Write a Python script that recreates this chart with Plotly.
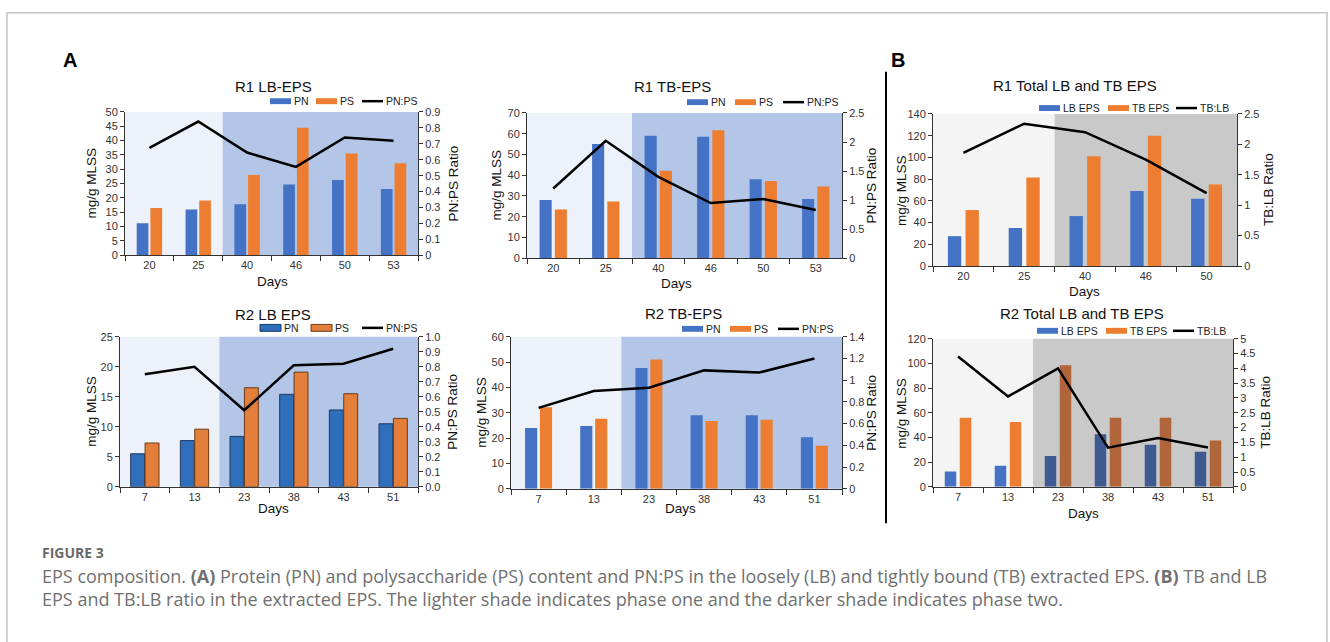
import plotly.graph_objects as go

W, H = 1330, 642

# ---------------- data ----------------
r1_days = ["20", "25", "40", "46", "50", "53"]
r1_lb_pn = [11.2, 16.0, 17.8, 24.7, 26.3, 23.1]
r1_lb_ps = [16.5, 19.1, 28.0, 44.5, 35.5, 32.1]
r1_lb_ratio = [0.675, 0.84, 0.645, 0.555, 0.74, 0.72]

r1_tb_pn = [28.0, 55.0, 59.0, 58.5, 38.0, 28.5]
r1_tb_ps = [23.5, 27.3, 42.2, 61.7, 37.2, 34.5]
r1_tb_ratio = [1.2, 2.02, 1.4, 0.95, 1.02, 0.83]

r1_tot_days = ["20", "25", "40", "46", "50"]
r1_tot_lb = [27.5, 35.0, 46.0, 69.0, 62.0]
r1_tot_tb = [51.5, 81.5, 101.0, 120.0, 75.0]
r1_tot_ratio = [1.86, 2.34, 2.2, 1.75, 1.2]

r2_days = ["7", "13", "23", "38", "43", "51"]
r2_lb_pn = [5.5, 7.7, 8.4, 15.4, 12.8, 10.5]
r2_lb_ps = [7.3, 9.6, 16.5, 19.1, 15.5, 11.4]
r2_lb_ratio = [0.75, 0.80, 0.51, 0.81, 0.82, 0.92]

r2_tb_pn = [24.0, 24.8, 47.7, 29.0, 29.0, 20.3]
r2_tb_ps = [32.2, 27.6, 51.0, 26.7, 27.2, 17.0]
r2_tb_ratio = [0.745, 0.90, 0.93, 1.09, 1.07, 1.2]

r2_tot_lb = [12.5, 17.0, 25.0, 42.5, 34.0, 28.5]
r2_tot_tb = [56.0, 52.5, 98.5, 56.0, 56.0, 37.5]
r2_tot_ratio = [4.4, 3.05, 4.0, 1.32, 1.65, 1.33]

# ---------------- helpers ----------------
def X(px):
    return px / W

def Y(py):
    return 1 - py / H

def ax_id(letter, k):
    return letter if k == 1 else f"{letter}{k}"

FONT = "Arial, Liberation Sans, sans-serif"
BLUE, ORANGE = "#4472C4", "#ED7D31"
SH_B_L, SH_B_D = "#EDF1F9", "#B4C6E7"
SH_G_L, SH_G_D = "#F4F4F4", "#C9C9C9"
TICK = 11
AXT = 13.5

panels = [
    dict(title="R1 LB-EPS", cats=r1_days, a=r1_lb_pn, b=r1_lb_ps, r=r1_lb_ratio,
         box=(125, 418, 108, 254), yl=(50, 5), yr=(0.9, 0.1), rfmt=None,
         bw=0.24, gap=0.04, shade=(SH_B_L, SH_B_D), names=("PN", "PS", "PN:PS"),
         ytitle="PN:PS Ratio", tpos=(273, 82), lx=(270, 316, 362), ly=97,
         lt=(92, 454), days=(272, 281), ca=BLUE, cb=ORANGE, outline=False),
    dict(title="R1 TB-EPS", cats=r1_days, a=r1_tb_pn, b=r1_tb_ps, r=r1_tb_ratio,
         box=(527, 842, 109, 257), yl=(70, 10), yr=(2.5, 0.5), rfmt=None,
         bw=0.23, gap=0.06, shade=(SH_B_L, SH_B_D), names=("PN", "PS", "PN:PS"),
         ytitle="PN:PS Ratio", tpos=(673, 82), lx=(687, 735, 783), ly=98,
         lt=(497, 872), days=(676, 283), ca=BLUE, cb=ORANGE, outline=False),
    dict(title="R1 Total LB and TB EPS", cats=r1_tot_days, a=r1_tot_lb, b=r1_tot_tb, r=r1_tot_ratio,
         box=(933, 1237, 110, 265), yl=(140, 20), yr=(2.5, 0.5), rfmt=None,
         bw=0.22, gap=0.07, shade=(SH_G_L, SH_G_D), names=("LB EPS", "TB EPS", "TB:LB"),
         ytitle="TB:LB Ratio", tpos=(1075, 81), lx=(1039, 1108, 1176), ly=104,
         lt=(902, 1269), days=(1084, 291), ca=BLUE, cb=ORANGE, outline=False),
    dict(title="R2 LB EPS", cats=r2_days, a=r2_lb_pn, b=r2_lb_ps, r=r2_lb_ratio,
         box=(120, 418, 337, 490), yl=(25, 5), yr=(1.0, 0.1), rfmt=".1f",
         bw=0.28, gap=0.01, shade=(SH_B_L, SH_B_D), names=("PN", "PS", "PN:PS"),
         ytitle="PN:PS Ratio", tpos=(273, 314), lx=(260, 311, 362), ly=328,
         lt=(92, 453), days=(273, 512), ca="#2F6EBA", cb="#E37F3A", outline=True),
    dict(title="R2 TB-EPS", cats=r2_days, a=r2_tb_pn, b=r2_tb_ps, r=r2_tb_ratio,
         box=(511, 842, 337, 492), yl=(60, 10), yr=(1.4, 0.2), rfmt=None,
         bw=0.22, gap=0.05, shade=(SH_B_L, SH_B_D), names=("PN", "PS", "PN:PS"),
         ytitle="PN:PS Ratio", tpos=(683, 313), lx=(682, 730, 778), ly=329,
         lt=(482, 872), days=(680, 512), ca=BLUE, cb=ORANGE, outline=False),
    dict(title="R2 Total LB and TB EPS", cats=r2_days, a=r2_tot_lb, b=r2_tot_tb, r=r2_tot_ratio,
         box=(933, 1233, 339, 490), yl=(120, 20), yr=(5, 0.5), rfmt=None,
         bw=0.23, gap=0.07, shade=(SH_G_L, SH_G_D), names=("LB EPS", "TB EPS", "TB:LB"),
         ytitle="TB:LB Ratio", tpos=(1082, 313), lx=(1037, 1106, 1173), ly=331,
         lt=(902, 1266), days=(1083, 517),
         ca=[BLUE, BLUE, "#3E5A91", "#3E5A91", "#3E5A91", "#3E5A91"],
         cb=[ORANGE, ORANGE, "#B0663A", "#B0663A", "#B0663A", "#B0663A"], outline=False),
]

fig = go.Figure()
layout = dict(
    width=W, height=H, margin=dict(l=0, r=0, t=0, b=0),
    paper_bgcolor="white", plot_bgcolor="rgba(0,0,0,0)",
    showlegend=False, barmode="overlay", font=dict(family=FONT, color="#222"),
)
shapes, annotations = [], []

for i, p in enumerate(panels, start=1):
    xa = ax_id("x", i)
    yl_name, yr_name = ax_id("y", 2 * i - 1), ax_id("y", 2 * i)
    l, r, t, b = p["box"]
    n = len(p["cats"])
    layout["xaxis" if i == 1 else f"xaxis{i}"] = dict(
        domain=[X(l), X(r)], anchor=yl_name, type="category",
        range=[-0.5, n - 0.5], showline=True, linecolor="#333", linewidth=1,
        ticks="outside", tickson="boundaries", ticklen=5, tickcolor="#333",
        tickfont=dict(size=TICK, color="#333"), showgrid=False, fixedrange=True,
    )
    layout["yaxis" if i == 1 else f"yaxis{2*i-1}"] = dict(
        domain=[Y(b), Y(t)], anchor=xa, range=[0, p["yl"][0]], dtick=p["yl"][1],
        showline=True, linecolor="#333", linewidth=1, ticks="outside", ticklen=4,
        tickcolor="#333", tickfont=dict(size=TICK, color="#333"), showgrid=False,
        zeroline=False,
    )
    yr_ax = dict(
        overlaying=yl_name, side="right", anchor=xa, range=[0, p["yr"][0]],
        dtick=p["yr"][1], showline=True, linecolor="#333", linewidth=1,
        ticks="outside", ticklen=4, tickcolor="#333",
        tickfont=dict(size=TICK, color="#333"), showgrid=False, zeroline=False,
    )
    if p["rfmt"]:
        yr_ax["tickformat"] = p["rfmt"]
    layout[f"yaxis{2*i}"] = yr_ax

    # phase shading
    shapes.append(dict(type="rect", xref=xa, yref=f"{yl_name} domain", x0=-0.5, x1=1.5,
                       y0=0, y1=1, fillcolor=p["shade"][0], line=dict(width=0), layer="below"))
    shapes.append(dict(type="rect", xref=xa, yref=f"{yl_name} domain", x0=1.5, x1=n - 0.5,
                       y0=0, y1=1, fillcolor=p["shade"][1], line=dict(width=0), layer="below"))

    bw, gap = p["bw"], p["gap"]
    la = dict(color="#1F3864", width=1) if p["outline"] else dict(width=0)
    lb = dict(color="#6B3A14", width=1) if p["outline"] else dict(width=0)
    fig.add_trace(go.Bar(x=p["cats"], y=p["a"], xaxis=xa, yaxis=yl_name, width=bw,
                         offset=-bw - gap / 2, marker=dict(color=p["ca"], line=la),
                         name=p["names"][0]))
    fig.add_trace(go.Bar(x=p["cats"], y=p["b"], xaxis=xa, yaxis=yl_name, width=bw,
                         offset=gap / 2, marker=dict(color=p["cb"], line=lb),
                         name=p["names"][1]))
    fig.add_trace(go.Scatter(x=p["cats"], y=p["r"], xaxis=xa, yaxis=yr_name, mode="lines",
                             line=dict(color="black", width=2.5), name=p["names"][2]))

    # title
    annotations.append(dict(text=p["title"], x=X(p["tpos"][0]), y=Y(p["tpos"][1]),
                            xref="paper", yref="paper", showarrow=False,
                            font=dict(size=15, color="#111"), xanchor="center", yanchor="middle"))
    # custom legend
    lxa, lxb, lxc = p["lx"]
    ly = p["ly"]
    ca0 = p["ca"][0] if isinstance(p["ca"], list) else p["ca"]
    cb0 = p["cb"][0] if isinstance(p["cb"], list) else p["cb"]
    rh = 3 if not p["outline"] else 3.5
    shapes.append(dict(type="rect", xref="paper", yref="paper", x0=X(lxa), x1=X(lxa + 21),
                       y0=Y(ly + rh), y1=Y(ly - rh), fillcolor=ca0,
                       line=la if p["outline"] else dict(width=0)))
    shapes.append(dict(type="rect", xref="paper", yref="paper", x0=X(lxb), x1=X(lxb + 21),
                       y0=Y(ly + rh), y1=Y(ly - rh), fillcolor=cb0,
                       line=lb if p["outline"] else dict(width=0)))
    shapes.append(dict(type="line", xref="paper", yref="paper", x0=X(lxc), x1=X(lxc + 21),
                       y0=Y(ly), y1=Y(ly), line=dict(color="black", width=2.5)))
    for xx, nm in zip((lxa, lxb, lxc), p["names"]):
        annotations.append(dict(text=nm, x=X(xx + 22), y=Y(ly), xref="paper", yref="paper",
                                showarrow=False, xanchor="left", yanchor="middle",
                                font=dict(size=10.5, color="#222")))
    # axis titles
    annotations.append(dict(text="mg/g MLSS", x=X(p["lt"][0]), y=Y((t + b) / 2), xref="paper",
                            yref="paper", showarrow=False, textangle=-90,
                            font=dict(size=AXT, color="#111"), xanchor="center", yanchor="middle"))
    annotations.append(dict(text=p["ytitle"], x=X(p["lt"][1]), y=Y((t + b) / 2), xref="paper",
                            yref="paper", showarrow=False, textangle=-90,
                            font=dict(size=AXT, color="#111"), xanchor="center", yanchor="middle"))
    annotations.append(dict(text="Days", x=X(p["days"][0]), y=Y(p["days"][1]), xref="paper",
                            yref="paper", showarrow=False, font=dict(size=AXT, color="#111"),
                            xanchor="center", yanchor="middle"))

# panel letters, divider, border
annotations.append(dict(text="<b>A</b>", x=X(70), y=Y(55), xref="paper", yref="paper",
                        showarrow=False, font=dict(size=20, color="black"),
                        xanchor="center", yanchor="middle"))
annotations.append(dict(text="<b>B</b>", x=X(898), y=Y(55), xref="paper", yref="paper",
                        showarrow=False, font=dict(size=20, color="black"),
                        xanchor="center", yanchor="middle"))
shapes.append(dict(type="line", xref="paper", yref="paper", x0=X(886), x1=X(886),
                   y0=Y(67), y1=Y(527), line=dict(color="black", width=2)))
shapes.append(dict(type="rect", xref="paper", yref="paper", x0=X(7), x1=X(1327),
                   y0=Y(700), y1=Y(7), line=dict(color="#c4c4c4", width=1.5),
                   fillcolor="rgba(0,0,0,0)"))

# caption
CAP = "Open Sans, sans-serif"
annotations.append(dict(text="<b>FIGURE 3</b>", x=X(40), y=Y(557), xref="paper", yref="paper",
                        showarrow=False, xanchor="left", yanchor="middle",
                        font=dict(family=CAP, size=14, color="#6a6a6a")))
cap1 = ("EPS composition. <b>(A)</b> Protein (PN) and polysaccharide (PS) content and PN:PS in the "
        "loosely (LB) and tightly bound (TB) extracted EPS. <b>(B)</b> TB and LB")
cap2 = ("EPS and TB:LB ratio in the extracted EPS. The lighter shade indicates phase one and "
        "the darker shade indicates phase two.")
annotations.append(dict(text=cap1 + "<br>" + cap2, x=X(40), y=Y(592.5), xref="paper", yref="paper",
                        showarrow=False, xanchor="left", yanchor="middle", align="left",
                        font=dict(family=CAP, size=18, color="#707070")))

layout["shapes"] = shapes
layout["annotations"] = annotations
fig.update_layout(**layout)
fig.write_html("out.html")
